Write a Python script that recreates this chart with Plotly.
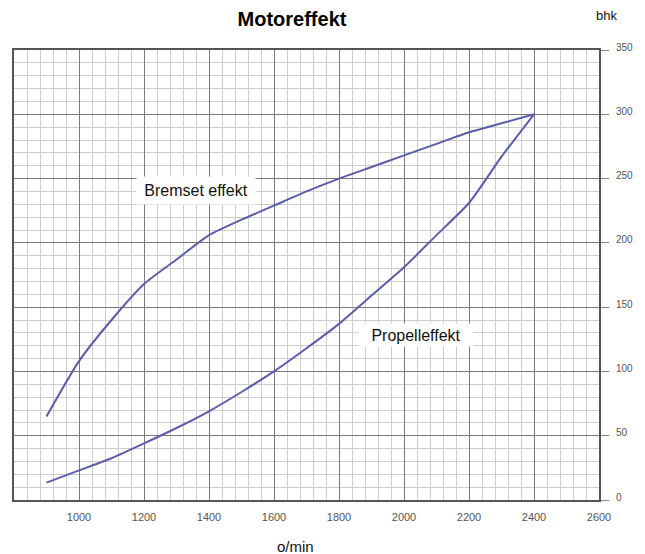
import plotly.graph_objects as go

# Data
rpm = [900, 1000, 1100, 1200, 1300, 1400, 1500, 1600, 1700, 1800, 1900, 2000, 2100, 2200, 2300, 2400]
bremset = [65, 108, 140, 168, 187, 206, 218, 229, 240, 250, 259, 268, 277, 286, 293, 300]
propell = [13.5, 23, 32.5, 44, 56, 69, 84, 100, 118, 137, 159, 181, 206, 231, 267, 300]

x_ticks = [1000, 1200, 1400, 1600, 1800, 2000, 2200, 2400, 2600]
y_ticks = [0, 50, 100, 150, 200, 250, 300, 350]

LINE = "#5b5ea6"
FONT = "Liberation Sans, Arial, sans-serif"

fig = go.Figure()
fig.add_trace(go.Scatter(x=rpm, y=bremset, mode="lines",
                         line=dict(color=LINE, width=2, shape="spline", smoothing=0.6),
                         name="Bremset effekt", hoverinfo="skip"))
fig.add_trace(go.Scatter(x=rpm, y=propell, mode="lines",
                         line=dict(color=LINE, width=2, shape="spline", smoothing=0.6),
                         name="Propelleffekt", hoverinfo="skip"))

W, H = 645, 554
L, R, T, B = 12, 43, 50, 54

fig.update_layout(
    width=W, height=H,
    margin=dict(l=L, r=R, t=T, b=B),
    paper_bgcolor="white", plot_bgcolor="white",
    showlegend=False,
    font=dict(family=FONT, color="#111"),
    title=dict(text="<b>Motoreffekt</b>", x=292 / W, xref="container", xanchor="center",
               y=1 - 19 / H, yref="container", yanchor="middle",
               font=dict(size=20, family=FONT, color="#000")),
)

fig.update_xaxes(
    range=[800, 2600],
    tickvals=x_ticks, ticktext=[str(v) for v in x_ticks],
    showgrid=True, gridcolor="#7a7a7a", gridwidth=1.2,
    minor=dict(dtick=40, tick0=800, showgrid=True, gridcolor="#cdcdcd", gridwidth=1),
    showline=True, mirror=True, linecolor="#555", linewidth=1.8,
    ticks="", tickfont=dict(size=11, color="#555", family=FONT),
    ticklabelstandoff=6,
    zeroline=False, fixedrange=True,
)
fig.update_yaxes(
    range=[0, 350], side="right",
    tickvals=y_ticks, ticktext=[str(v) for v in y_ticks],
    showgrid=True, gridcolor="#7a7a7a", gridwidth=1.2,
    minor=dict(dtick=10, tick0=0, showgrid=True, gridcolor="#cdcdcd", gridwidth=1),
    showline=True, mirror=True, linecolor="#555", linewidth=1.8,
    ticks="outside", ticklen=8, tickcolor="#888", tickwidth=1,
    tickfont=dict(size=10, color="#555", family=FONT),
    ticklabelshift=-3, ticklabelstandoff=5,
    zeroline=False, fixedrange=True,
)

pw = W - L - R
ph = H - T - B

def px_to_paper(px, py):
    return (px - L) / pw, (H - B - py) / ph

bx, by = px_to_paper(610, 16)
fig.add_annotation(text="bhk", xref="paper", yref="paper", x=bx, y=by, showarrow=False,
                   xanchor="center", yanchor="middle", font=dict(size=13, color="#111", family=FONT))
ox, oy = px_to_paper(296, 546)
fig.add_annotation(text="o/min", xref="paper", yref="paper", x=ox, y=oy, showarrow=False,
                   xanchor="center", yanchor="middle", font=dict(size=15, color="#111", family=FONT))

fig.add_annotation(text="Bremset effekt", x=1361, y=241, xref="x", yref="y", showarrow=False,
                   bgcolor="white", width=118, height=27, borderpad=0,
                   font=dict(size=16, color="#111", family=FONT))
fig.add_annotation(text="Propelleffekt", x=2036, y=128, xref="x", yref="y", showarrow=False,
                   bgcolor="white", width=114, height=22, borderpad=0,
                   font=dict(size=16, color="#111", family=FONT))

fig.write_html("out.html", config={"displayModeBar": False},
               post_script="document.body.style.margin='0';document.body.style.overflow='hidden';")
